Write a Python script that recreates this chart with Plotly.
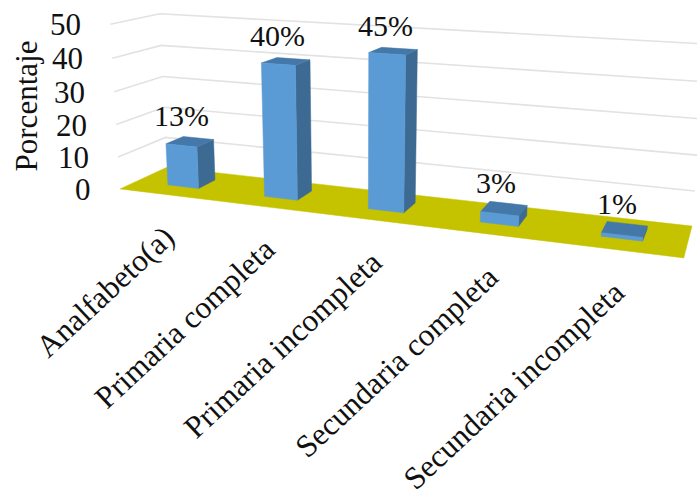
import numpy as np
import plotly.graph_objects as go

categories = ["Analfabeto(a)", "Primaria completa", "Primaria incompleta", "Secundaria completa", "Secundaria incompleta"]
values = [13, 40, 45, 3, 1]
labels = ["13%", "40%", "45%", "3%", "1%"]
value_ticks = [0, 10, 20, 30, 40, 50]

FONT = "Liberation Serif"
INK = "#111111"
FRONT = "#5b9bd5"
SIDE = "#3d6a92"
TOP = "#4378a9"
FLOOR = "#c5c200"
GRID = "#e2e2e2"
VMAX = 50.0
SLOT_FILL = 0.325
D0, D1 = 0.34, 0.72

# camera calibration: (across, depth, height) -> picture position
cal_world = [(0, 0, 0), (0, 1, 0), (1, 1, 0), (1, 0, 0), (0, 0, 1), (0, 1, 1), (1, 1, 1)]
cal_pix = [(122, 188), (165, 168), (692, 226), (684, 258), (108, 25), (162, 13), (707, 44)]
A, b = [], []
for (X, Y, Z), (px, py) in zip(cal_world, cal_pix):
    A.append([X, Y, Z, 1, 0, 0, 0, 0, -px * X, -px * Y, -px * Z]); b.append(px)
    A.append([0, 0, 0, 0, X, Y, Z, 1, -py * X, -py * Y, -py * Z]); b.append(py)
sol = np.linalg.lstsq(np.array(A, float), np.array(b, float), rcond=None)[0]
P = np.append(sol, 1.0).reshape(3, 4)


def project(u, d, v):
    h = P @ np.array([u, d, v / VMAX, 1.0])
    return float(h[0] / h[2]), float(h[1] / h[2])


def poly(points, color):
    pts = [project(*p) for p in points]
    pts.append(pts[0])
    fig.add_trace(go.Scatter(x=[p[0] for p in pts], y=[p[1] for p in pts], mode="lines", fill="toself",
                             fillcolor=color, line=dict(color=color, width=0.5), hoverinfo="skip", showlegend=False))


fig = go.Figure()

# walls' gridlines
for t in value_ticks[1:]:
    pts = [project(0, 0, t), project(0, 1, t), project(1, 1, t)]
    fig.add_trace(go.Scatter(x=[p[0] for p in pts], y=[p[1] for p in pts], mode="lines",
                             line=dict(color=GRID, width=1.6), hoverinfo="skip", showlegend=False))

# floor
poly([(0, 0, 0), (0, 1, 0), (1, 1, 0), (1, 0, 0)], FLOOR)

# bars
n = len(values)
ann = []
for i, v in enumerate(values):
    uc = (i + 0.5) / n
    hw = SLOT_FILL / n / 2
    u0, u1 = uc - hw, uc + hw
    poly([(u1, D0, 0), (u1, D1, 0), (u1, D1, v), (u1, D0, v)], SIDE)
    poly([(u0, D0, v), (u1, D0, v), (u1, D1, v), (u0, D1, v)], TOP)
    poly([(u0, D0, 0), (u1, D0, 0), (u1, D0, v), (u0, D0, v)], FRONT)
    tx, ty = project(uc, (D0 + D1) / 2, v)
    ann.append(dict(x=tx, y=ty, text=labels[i], showarrow=False, xanchor="center", yanchor="middle",
                    xshift=-8, yshift=26, font=dict(family=FONT, size=30, color=INK)))
    lx, ly = project(uc, 0, 0)
    ann.append(dict(x=lx, y=ly, text=categories[i], showarrow=False, textangle=-43, xanchor="right", yanchor="top",
                    xshift=17, yshift=-22, font=dict(family=FONT, size=31.5, color=INK)))

# value axis labels
for t in value_ticks:
    x, y = project(0, 0, t)
    ann.append(dict(x=x, y=y, text=str(t), showarrow=False, xanchor="right", yanchor="middle", height=28,
                    xshift=-27, font=dict(family=FONT, size=31, color=INK)))
ax, ay = project(0, 0, 25)
ann.append(dict(x=ax, y=ay, text="Porcentaje", showarrow=False, textangle=-90, xanchor="center", yanchor="middle",
                xshift=-89, yshift=2, font=dict(family=FONT, size=31, color=INK)))

fig.update_layout(
    width=697, height=492, margin=dict(l=0, r=0, t=0, b=0), paper_bgcolor="white", plot_bgcolor="white",
    showlegend=False, annotations=ann,
    xaxis=dict(range=[0, 697], visible=False, fixedrange=True),
    yaxis=dict(range=[492, 0], visible=False, fixedrange=True),
)
fig.write_html("out.html", config={"displayModeBar": False},
               post_script="document.body.style.margin='0';document.documentElement.style.overflow='hidden';")
